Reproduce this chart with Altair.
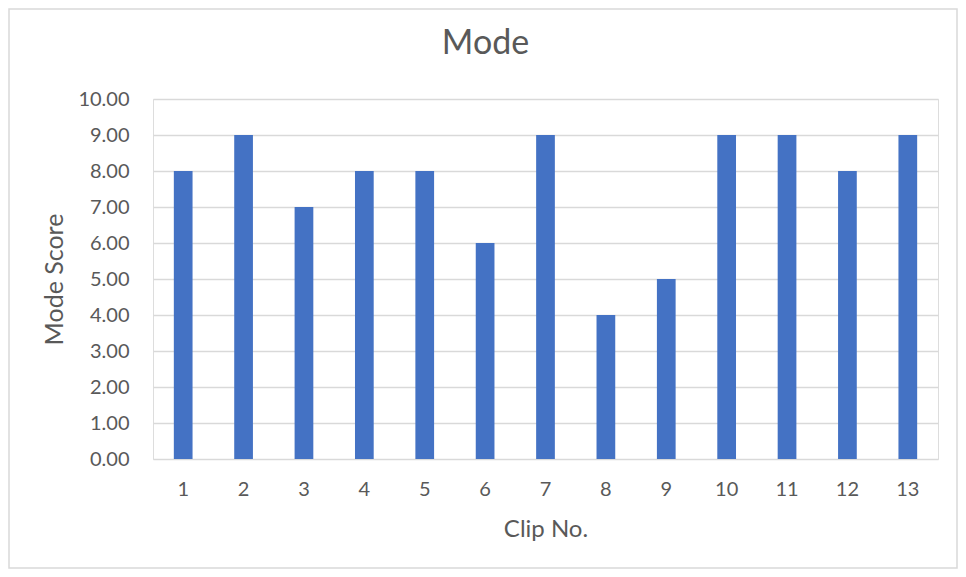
import altair as alt
import pandas as pd

clips = [str(i) for i in range(1, 14)]
mode_scores = [8, 9, 7, 8, 8, 6, 9, 4, 5, 9, 9, 8, 9]

df = pd.DataFrame({"clip": clips, "score": mode_scores})

FONT = "Lato"
TXT = "#595959"
GRID = "#d9d9d9"

bars = alt.Chart(df).mark_bar(color="#4472c4").encode(
    x=alt.X("clip:O", sort=clips,
            scale=alt.Scale(paddingInner=0.69, paddingOuter=0.345),
            axis=alt.Axis(title="Clip No.", labelAngle=0, ticks=False, tickSize=0,
                          domain=False, labelPadding=20, titlePadding=18,
                          labelFontSize=20, titleFontSize=24,
                          labelColor=TXT, titleColor=TXT, labelFont=FONT,
                          titleFont=FONT, titleFontWeight="normal", grid=False)),
    y=alt.Y("score:Q", scale=alt.Scale(domain=[0, 10], nice=False),
            axis=alt.Axis(title="Mode Score", values=list(range(0, 11)), format=".2f",
                          ticks=False, tickSize=0, domain=False, labelPadding=24,
                          titlePadding=10, labelFontSize=20, titleFontSize=25,
                          labelColor=TXT, titleColor=TXT, labelFont=FONT,
                          titleFont=FONT, titleFontWeight="normal",
                          gridColor=GRID, gridWidth=1.3)),
)

border = alt.Chart(pd.DataFrame({"a": [0]})).mark_rect(
    fill=None, stroke=GRID, strokeWidth=1.5
).encode(
    x=alt.value(-144), x2=alt.value(804), y=alt.value(-90), y2=alt.value(469)
)

chart = alt.layer(border, bars).properties(
    width=785, height=360,
    autosize=alt.AutoSizeParams(type="none"),
    padding={"left": 145, "top": 91, "right": 20, "bottom": 110},
    title=alt.TitleParams("Mode", font=FONT, fontSize=34, fontWeight="normal",
                          color=TXT, anchor="middle", frame="group", dx=-60,
                          baseline="alphabetic", offset=-79.75),
).configure_view(stroke=None).configure(background="white")

chart.save("out.html", embed_options={"renderer": "svg", "actions": False})
